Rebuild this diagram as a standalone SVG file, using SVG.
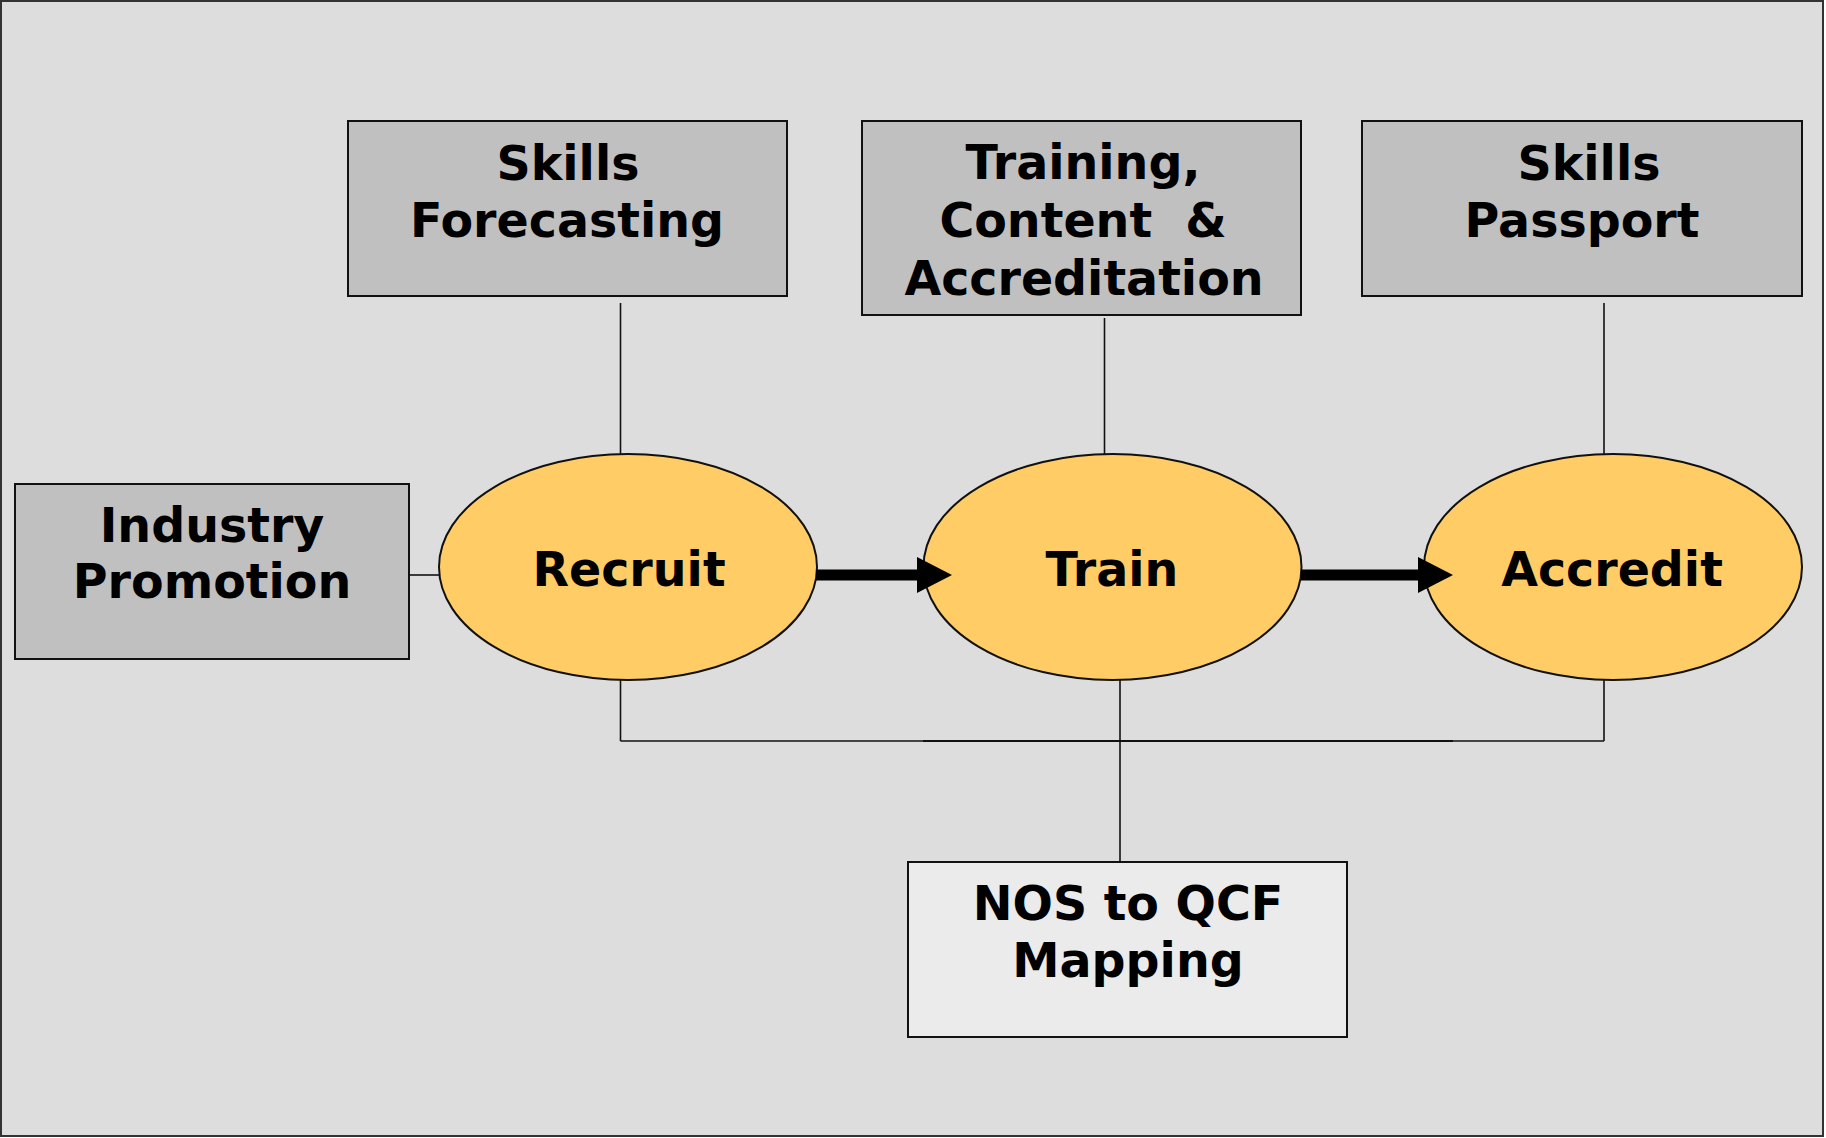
<svg xmlns="http://www.w3.org/2000/svg" width="1826" height="1138" viewBox="0 0 1826 1138">
<style>
.box{fill:#C0C0C0;stroke:#111;stroke-width:2}
.light{fill:#EBEBEB;stroke:#111;stroke-width:2}
.oval{fill:#FFCC66;stroke:#111;stroke-width:2}
.t{font-family:"DejaVu Sans",Verdana,sans-serif;font-weight:bold;font-size:47.5px;fill:#000;text-anchor:middle}
.ln{stroke:#111;stroke-width:1.6;fill:none}
.thick{stroke:#000;stroke-width:11;fill:none}
</style>
<defs>
<marker id="ah" markerUnits="userSpaceOnUse" markerWidth="36" markerHeight="38" refX="1" refY="19" orient="auto">
<path d="M0,1 L35,19 L0,37 Z" fill="#000"/>
</marker>
</defs>
<rect x="1" y="1" width="1822" height="1135" fill="#DDDDDD" stroke="#333" stroke-width="2"/>
<g id="skills-forecasting">
<rect class="box" x="348" y="121" width="439" height="175"/>
<text class="t" x="568" y="180">Skills</text>
<text class="t" x="567" y="237">Forecasting</text>
</g>
<g id="training-content">
<rect class="box" x="862" y="121" width="439" height="194"/>
<text class="t" x="1083" y="179">Training,</text>
<text class="t" x="1083" y="237" xml:space="preserve">Content  &amp;</text>
<text class="t" x="1084" y="295">Accreditation</text>
</g>
<g id="skills-passport">
<rect class="box" x="1362" y="121" width="440" height="175"/>
<text class="t" x="1589" y="180">Skills</text>
<text class="t" x="1582" y="237">Passport</text>
</g>
<g id="industry-promotion">
<rect class="box" x="15" y="484" width="394" height="175"/>
<text class="t" x="212" y="542">Industry</text>
<text class="t" x="212" y="598">Promotion</text>
</g>
<g id="recruit">
<ellipse class="oval" cx="628" cy="567" rx="189" ry="113"/>
<text class="t" x="629" y="586">Recruit</text>
</g>
<g id="train">
<ellipse class="oval" cx="1112.5" cy="567" rx="189" ry="113"/>
<text class="t" x="1112" y="586">Train</text>
</g>
<g id="accredit">
<ellipse class="oval" cx="1613" cy="567" rx="189" ry="113"/>
<text class="t" x="1612" y="586">Accredit</text>
</g>
<g id="nos-qcf">
<rect class="light" x="908" y="862" width="439" height="175"/>
<text class="t" x="1128" y="920">NOS to QCF</text>
<text class="t" x="1128" y="977">Mapping</text>
</g>
<g id="connectors">
<line class="ln" x1="620.5" y1="303" x2="620.5" y2="454"/>
<line class="ln" x1="1104.5" y1="318" x2="1104.5" y2="454"/>
<line class="ln" x1="1604" y1="303" x2="1604" y2="454"/>
<line class="ln" x1="409" y1="575" x2="440" y2="575"/>
<line class="ln" x1="620.5" y1="680" x2="620.5" y2="741"/>
<line class="ln" x1="1604" y1="680" x2="1604" y2="741"/>
<line class="ln" x1="620.5" y1="741" x2="1604" y2="741"/>
<line x1="923" y1="741" x2="1453" y2="741" stroke="#111" stroke-width="2.2"/>
<line class="ln" x1="1120" y1="680" x2="1120" y2="862"/>
<line class="thick" x1="816" y1="575" x2="918" y2="575" marker-end="url(#ah)"/>
<line class="thick" x1="1301" y1="575" x2="1419" y2="575" marker-end="url(#ah)"/>
</g>
</svg>
